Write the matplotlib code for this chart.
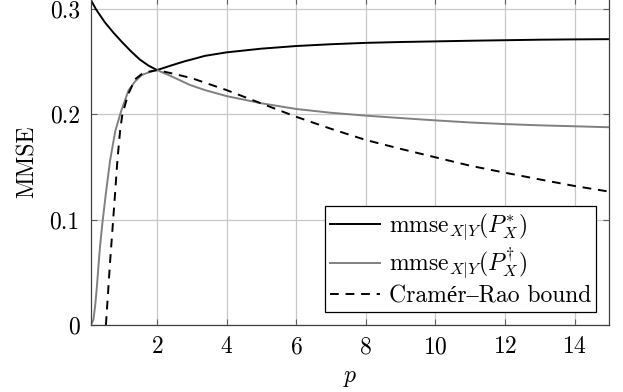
import matplotlib
matplotlib.use("Agg")
import matplotlib.pyplot as plt

plt.rcParams['font.family'] = ['cmr10', 'Liberation Serif', 'DejaVu Serif']
plt.rcParams['mathtext.fontset'] = 'cm'
plt.rcParams['axes.formatter.use_mathtext'] = True
plt.rcParams['axes.unicode_minus'] = False

# black curve: mmse with P_X^*
p_star = [0.1, 0.25, 0.5, 0.75, 1.0, 1.25, 1.5, 1.75, 2.0, 2.4, 2.81, 3.0,
          3.38, 4.0, 5.0, 6.0, 7.0, 8.0, 9.0, 10.0, 11.0, 12.0, 13.0, 14.0, 15.0]
mmse_star = [0.308, 0.299, 0.287, 0.277, 0.268, 0.2595, 0.2518, 0.246, 0.2417,
             0.246, 0.2502, 0.2518, 0.2552, 0.2585, 0.262, 0.2645, 0.2662, 0.2675, 0.2683,
             0.2689, 0.2695, 0.270, 0.2705, 0.2708, 0.271]

# grey curve: mmse with P_X^dagger
p_dag = [0.1, 0.17, 0.22, 0.27, 0.32, 0.365, 0.43, 0.53, 0.65, 0.8, 0.97, 1.18, 1.37,
         1.56, 1.8, 2.0, 2.4, 2.95, 3.38, 4.0, 5.0, 6.0, 7.0, 8.0, 9.0, 10.0, 11.0,
         12.0, 13.0, 14.0, 15.0]
mmse_dag = [0.0, 0.005, 0.018, 0.036, 0.058, 0.076, 0.097, 0.125, 0.156, 0.184, 0.203,
            0.2225, 0.231, 0.237, 0.2400, 0.2417, 0.236, 0.2275, 0.2227, 0.217, 0.2102,
            0.2048, 0.2012, 0.1985, 0.1962, 0.194, 0.192, 0.1905, 0.1893, 0.1884, 0.1875]

# dashed curve: Cramer-Rao bound
p_crb = [0.53, 0.6, 0.65, 0.73, 0.8, 0.86, 0.94, 1.0, 1.16, 1.37, 1.6, 2.0, 2.5, 3.0,
         3.38, 4.0, 5.0, 6.0, 7.0, 8.0, 9.0, 10.0, 11.0, 12.0, 13.0, 14.0, 15.0]
crb = [0.0, 0.035, 0.06, 0.096, 0.128, 0.156, 0.185, 0.199, 0.218, 0.233, 0.239, 0.2417,
       0.238, 0.234, 0.2297, 0.2227, 0.210, 0.1974, 0.186, 0.1754, 0.167, 0.159, 0.151,
       0.1444, 0.138, 0.1318, 0.1264]

xticks = [2, 4, 6, 8, 10, 12, 14]
yticks = [0, 0.1, 0.2, 0.3]
ytick_labels = ['0', '0.1', '0.2', '0.3']

fig = plt.figure(figsize=(6.23, 3.92), dpi=100)
ax = fig.add_axes([0.146, 0.171, 0.832, 0.834])

ax.plot(p_star, mmse_star, color='black', lw=1.4,
        label=r'$\mathrm{mmse}_{X|Y}(P_X^{*})$')
ax.plot(p_dag, mmse_dag, color='#808080', lw=1.4,
        label=r'$\mathrm{mmse}_{X|Y}(P_X^{\dagger})$')
ax.plot(p_crb, crb, color='black', lw=1.4, dashes=(4.5, 3.5),
        label='Cramér–Rao bound')

ax.set_xlim(0.1, 15)
ax.set_ylim(0, 0.31)
ax.set_xticks(xticks)
ax.set_yticks(yticks)
ax.set_yticklabels(ytick_labels)
ax.grid(True, color='#c8c8c8', lw=0.9)
ax.set_axisbelow(True)
ax.tick_params(direction='in', length=4, width=0.8, color='#606060',
               labelsize=17, pad=8, top=True, right=True)
for s in ax.spines.values():
    s.set_color('#404040')
    s.set_linewidth(0.9)

ax.set_xlabel(r'$p$', fontsize=17, labelpad=6)
ax.set_ylabel('MMSE', fontsize=17, labelpad=8)

leg = ax.legend(loc='lower right', fontsize=17, fancybox=False, framealpha=1,
                edgecolor='black', handlelength=2.1, handletextpad=0.4,
                borderpad=0.2, labelspacing=0.15, borderaxespad=0.55)
leg.get_frame().set_linewidth(0.9)

fig.savefig('out.png', dpi=100)
